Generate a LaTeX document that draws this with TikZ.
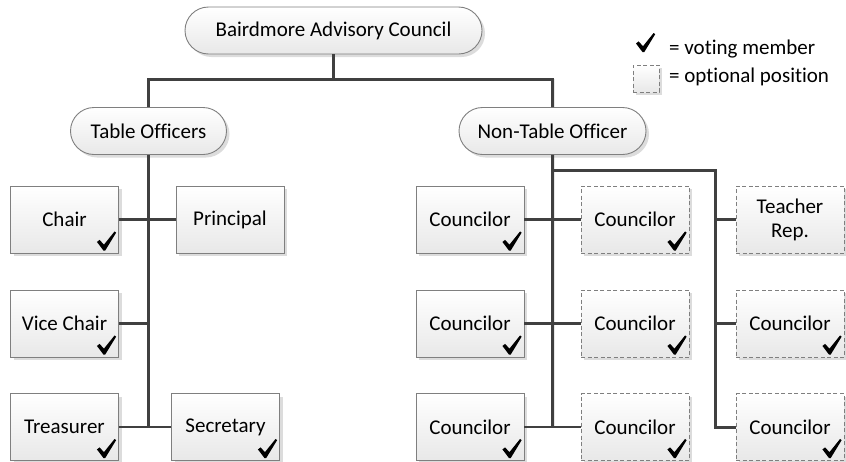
\documentclass[tikz,border=0pt]{standalone}
\usepackage{fontspec}
\setmainfont[RawFeature={-liga}]{Carlito}
\usetikzlibrary{shapes.misc,shadows,calc}
\definecolor{linec}{HTML}{404040}
\definecolor{borderc}{HTML}{7F7F7F}
\definecolor{shadc}{HTML}{DCDCDC}
\tikzset{
  every node/.style={font=\fontsize{21}{24}\selectfont, text=black},
  boxbase/.style={rectangle, minimum width=108pt, minimum height=67pt, inner sep=0pt,
    top color=white, bottom color=black!9, draw=borderc, line width=0.9pt, align=center,
    drop shadow={shadow xshift=3pt, shadow yshift=-3pt, fill=shadc, opacity=1}},
  solidbox/.style={boxbase},
  optbox/.style={boxbase, dashed, dash pattern=on 4pt off 2.5pt},
  pill/.style={rounded rectangle, minimum height=47pt, inner sep=0pt,
    top color=white, bottom color=black!9, draw=borderc, line width=0.9pt,
    drop shadow={shadow xshift=3pt, shadow yshift=-3pt, fill=shadc, opacity=1}},
  trunk/.style={draw=linec, line width=3pt},
  stub/.style={draw=linec, line width=2.6pt},
}
\newcommand\chkshape{(0,10.5) -- (2.6,8.4) -- (7,13.2) -- (17.6,0) -- (19.2,1.2) -- (8.2,19.2) -- (6.6,19.2) -- cycle}
\newcommand\chkmark[1]{%
  \fill[black, shift={($(#1.south east)+(-22,-22)$)}] \chkshape;}
\begin{document}
\begin{tikzpicture}[x=1pt,y=-1pt]
\useasboundingbox (0,0) rectangle (846,461);

% top level
\node[pill, minimum width=297pt] (top) at (333.5,30.5) {Bairdmore Advisory Council};
\node[pill, minimum width=156pt] (to) at (148.5,131) {Table Officers};
\node[pill, minimum width=187pt] (nto) at (552.5,131) {Non-Table Officer};

% left boxes
\node[solidbox] (chair) at (64.5,219.5) {Chair};
\node[solidbox] (principal) at (230,219.5) {Principal};
\node[solidbox] (vice) at (64.5,323.5) {Vice Chair};
\node[solidbox] (treas) at (64.5,427) {Treasurer};
\node[solidbox] (secr) at (225.5,427) {Secretary};

% right boxes
\node[solidbox] (c11) at (470,219.5) {Councilor};
\node[optbox]   (c12) at (635,219.5) {Councilor};
\node[optbox]   (c13) at (790,219.5) {Teacher\\Rep.};
\node[solidbox] (c21) at (470,323.5) {Councilor};
\node[optbox]   (c22) at (635,323.5) {Councilor};
\node[optbox]   (c23) at (790,323.5) {Councilor};
\node[solidbox] (c31) at (470,427) {Councilor};
\node[optbox]   (c32) at (635,427) {Councilor};
\node[optbox]   (c33) at (790,427) {Councilor};

% coordinates
\coordinate (hj) at (333.5,79);
\coordinate (hl) at (148.5,79);
\coordinate (hr) at (552.7,79);
\coordinate (lbot) at (148.5,427);
\coordinate (lmid) at (148.5,323.5);
\coordinate (rbot) at (552.7,427);
\coordinate (rtop) at (552.7,170);
\coordinate (bcorner) at (715,170);
\coordinate (bbot) at (715,427);
\coordinate (bmid1) at (715,219.5);
\coordinate (bmid2) at (715,323.5);

% connectors
\draw[trunk] (top.south) -- (hj);
\draw[trunk, line cap=rect] (hl) -- (hr);
\draw[trunk] (hl) -- (to.north);
\draw[trunk] (hr) -- (nto.north);
\draw[trunk] (to.south) -- (lbot);
\draw[stub] (chair.east) -- (principal.west);
\draw[stub] (vice.east) -- (lmid);
\draw[stub] (treas.east) -- (secr.west);
\draw[trunk] (nto.south) -- (rbot);
\draw[stub] (c11.east) -- (c12.west);
\draw[stub] (c21.east) -- (c22.west);
\draw[stub] (c31.east) -- (c32.west);
\draw[trunk, line join=miter] (rtop) -- (bcorner) -- (bbot) -- (c33.west);
\draw[stub] (bmid1) -- (c13.west);
\draw[stub] (bmid2) -- (c23.west);

% check marks
\foreach \n in {chair,vice,treas,secr,c11,c12,c21,c22,c23,c31,c32,c33} {\chkmark{\n}}

% legend
\fill[black, shift={(636,33)}] \chkshape;
\node[anchor=west, inner sep=0pt] (lg1) at (669,49) {= voting member};
\node[optbox, minimum width=26pt, minimum height=27pt] (lgbox) at (646,78.5) {};
\node[anchor=west, inner sep=0pt] (lg2) at (669,77) {= optional position};
\end{tikzpicture}
\end{document}
